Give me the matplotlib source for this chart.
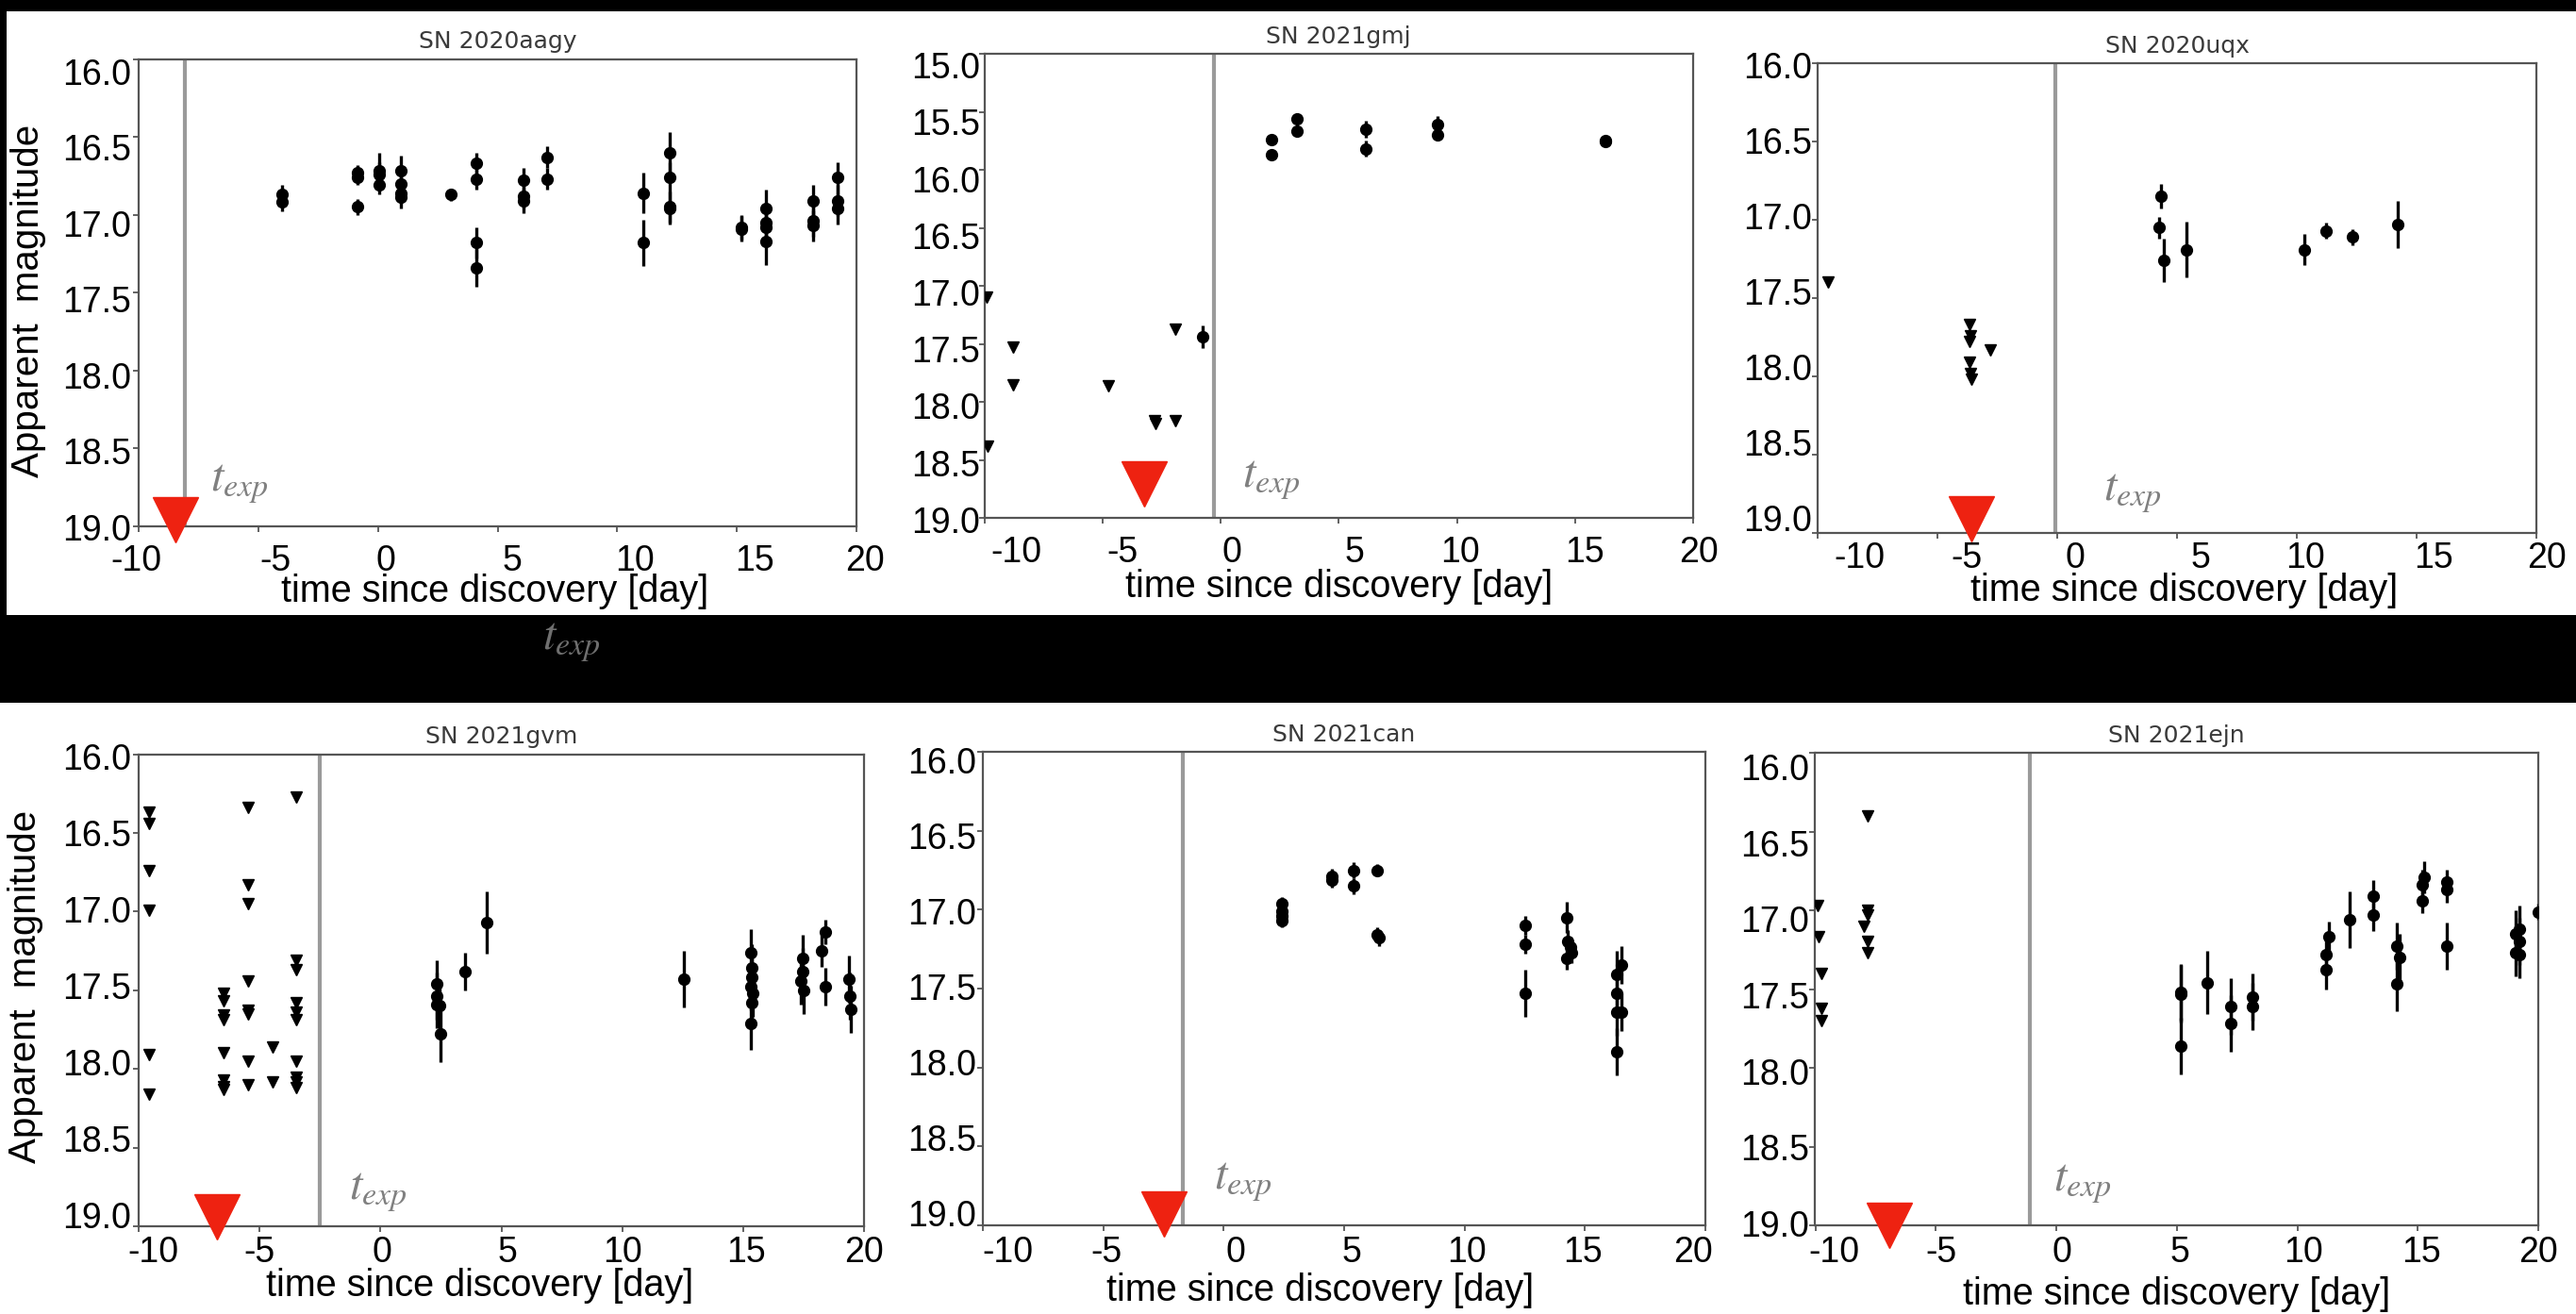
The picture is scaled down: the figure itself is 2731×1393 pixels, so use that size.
import matplotlib
matplotlib.use("Agg")
import matplotlib.pyplot as plt
from matplotlib.patches import Rectangle
from matplotlib.transforms import ScaledTranslation

plt.rcParams['mathtext.fontset'] = 'stix'

W, H, DPI = 2731, 1393, 100

# ---------------- data ----------------
names = ["SN 2020aagy", "SN 2021gmj", "SN 2020uqx", "SN 2021gvm", "SN 2021can", "SN 2021ejn"]
x_ticks = [-10, -5, 0, 5, 10, 15, 20]
x_ticklabels = ["-10", "-5", "0", "5", "10", "15", "20"]
y_ticks_a = [16.0, 16.5, 17.0, 17.5, 18.0, 18.5, 19.0]
y_ticklabels_a = ["16.0", "16.5", "17.0", "17.5", "18.0", "18.5", "19.0"]
y_ticks_b = [15.0, 15.5, 16.0, 16.5, 17.0, 17.5, 18.0, 18.5, 19.0]
y_ticklabels_b = ["15.0", "15.5", "16.0", "16.5", "17.0", "17.5", "18.0", "18.5", "19.0"]

# SN 2020aagy
aagy_t = [-4.0, -4.0, -0.87, -0.87, -0.87, 0.05, 0.05, 0.05, 0.96, 0.96, 0.96, 0.96, 3.03,
          4.1, 4.1, 4.1, 4.1, 6.08, 6.08, 6.08, 7.06, 7.06, 11.1, 11.1, 12.2, 12.2, 12.2, 12.2,
          15.2, 15.2, 16.2, 16.2, 16.2, 16.2, 18.2, 18.2, 18.2, 19.2, 19.2, 19.2]
aagy_m = [16.87, 16.92, 16.73, 16.76, 16.95, 16.72, 16.74, 16.81, 16.72, 16.80, 16.86, 16.89, 16.87,
          16.67, 16.77, 17.18, 17.34, 16.78, 16.88, 16.91, 16.63, 16.77, 16.86, 17.18, 16.60, 16.76, 16.95, 16.96,
          17.08, 17.09, 16.96, 17.05, 17.08, 17.17, 16.91, 17.04, 17.07, 16.76, 16.91, 16.96]
aagy_e = [0.06, 0.06, 0.05, 0.05, 0.05, 0.12, 0.08, 0.06, 0.1, 0.07, 0.07, 0.07, 0.04,
          0.07, 0.07, 0.1, 0.12, 0.08, 0.08, 0.08, 0.07, 0.07, 0.13, 0.15, 0.13, 0.1, 0.1, 0.1,
          0.08, 0.08, 0.12, 0.1, 0.1, 0.15, 0.1, 0.1, 0.1, 0.1, 0.1, 0.1]
aagy_ul_t = []
aagy_ul_m = []

# SN 2021gmj
gmj_t = [-0.74, 2.15, 2.15, 3.24, 3.24, 6.13, 6.13, 9.18, 9.18, 16.3, 16.3]
gmj_m = [17.44, 15.74, 15.87, 15.56, 15.67, 15.65, 15.82, 15.61, 15.70, 15.75, 15.76]
gmj_e = [0.1, 0.02, 0.02, 0.02, 0.02, 0.07, 0.07, 0.07, 0.05, 0.02, 0.02]
gmj_ul_t = [-9.9, -9.85, -8.8, -8.8, -4.74, -2.8, -2.74, -1.9, -1.9]
gmj_ul_m = [17.10, 18.38, 17.53, 17.85, 17.86, 18.16, 18.19, 17.37, 18.16]

# SN 2020uqx
uqx_t = [4.24, 4.33, 4.45, 5.37, 10.3, 11.2, 12.3, 14.2]
uqx_m = [17.05, 16.85, 17.26, 17.19, 17.19, 17.07, 17.11, 17.03]
uqx_e = [0.07, 0.08, 0.14, 0.18, 0.1, 0.05, 0.05, 0.15]
uqx_ul_t = [-9.59, -3.66, -3.62, -3.66, -3.66, -3.62, -3.6, -2.81]
uqx_ul_m = [17.40, 17.67, 17.74, 17.78, 17.91, 17.98, 18.02, 17.83]

# SN 2021gvm
gvm_t = [2.33, 2.33, 2.33, 2.45, 2.5, 3.5, 4.38, 12.53,
         15.3, 15.35, 15.35, 15.3, 15.4, 15.35, 15.3,
         17.45, 17.45, 17.4, 17.5, 18.24, 18.4, 18.4, 19.37, 19.4, 19.45]
gvm_m = [17.46, 17.54, 17.59, 17.60, 17.78, 17.38, 17.07, 17.43,
         17.26, 17.36, 17.42, 17.48, 17.52, 17.58, 17.71,
         17.30, 17.38, 17.44, 17.50, 17.25, 17.13, 17.48, 17.43, 17.54, 17.62]
gvm_e = [0.15, 0.15, 0.15, 0.15, 0.18, 0.12, 0.2, 0.18,
         0.15, 0.15, 0.15, 0.15, 0.15, 0.15, 0.17,
         0.15, 0.15, 0.15, 0.15, 0.1, 0.08, 0.12, 0.15, 0.15, 0.15]
gvm_ul_t = [-9.57, -9.57, -9.57, -9.57, -9.57, -9.57,
            -6.48, -6.48, -6.48, -6.48, -6.48, -6.48, -6.48, -6.48,
            -5.46, -5.46, -5.46, -5.46, -5.46, -5.46, -5.46, -5.46,
            -4.45, -4.45,
            -3.48, -3.48, -3.48, -3.48, -3.48, -3.48, -3.48, -3.48, -3.48, -3.48]
gvm_ul_m = [16.37, 16.44, 16.74, 16.99, 17.91, 18.16,
            17.52, 17.57, 17.66, 17.69, 17.90, 18.07, 18.11, 18.13,
            16.34, 16.83, 16.95, 17.44, 17.63, 17.65, 17.95, 18.10,
            17.86, 18.08,
            16.27, 17.31, 17.37, 17.58, 17.64, 17.69, 17.95, 18.05, 18.08, 18.12]

# SN 2021can
can_t = [2.43, 2.43, 2.43, 2.43, 4.5, 4.5, 5.41, 5.41, 6.37, 6.37, 6.45,
         12.51, 12.51, 12.51, 14.25, 14.3, 14.4, 14.45, 14.25,
         16.33, 16.33, 16.33, 16.33, 16.5, 16.5]
can_m = [16.96, 17.01, 17.04, 17.07, 16.79, 16.81, 16.75, 16.85, 16.75, 17.16, 17.18,
         17.10, 17.22, 17.53, 17.05, 17.20, 17.24, 17.27, 17.31,
         17.41, 17.53, 17.65, 17.90, 17.35, 17.65]
can_e = [0.04, 0.04, 0.04, 0.04, 0.05, 0.05, 0.05, 0.05, 0.04, 0.05, 0.05,
         0.06, 0.06, 0.15, 0.1, 0.07, 0.07, 0.07, 0.07,
         0.15, 0.15, 0.15, 0.15, 0.12, 0.12]

# SN 2021ejn
ejn_t = [5.17, 5.17, 5.17, 6.28, 7.24, 7.24, 8.16, 8.16, 11.2, 11.2, 11.3, 12.18, 13.17, 13.17,
         14.14, 14.14, 14.25, 15.17, 15.17, 15.25, 16.2, 16.2, 16.2,
         19.08, 19.08, 19.2, 19.2, 19.2, 20.0]
ejn_m = [17.52, 17.53, 17.86, 17.46, 17.61, 17.72, 17.55, 17.61, 17.28, 17.38, 17.17, 17.06, 16.91, 17.03,
         17.23, 17.47, 17.30, 16.84, 16.94, 16.79, 16.82, 16.87, 17.23,
         17.15, 17.27, 17.12, 17.20, 17.28, 17.01]
ejn_e = [0.18, 0.18, 0.18, 0.2, 0.18, 0.18, 0.15, 0.15, 0.12, 0.12, 0.1, 0.18, 0.1, 0.1,
         0.15, 0.17, 0.15, 0.1, 0.08, 0.1, 0.08, 0.08, 0.15,
         0.15, 0.15, 0.15, 0.15, 0.15, 0.05]
ejn_ul_t = [-9.9, -9.85, -9.75, -9.75, -9.75, -7.82, -7.98, -7.82, -7.82, -7.82, -7.82]
ejn_ul_m = [16.97, 17.17, 17.40, 17.62, 17.70, 16.40, 17.10, 17.00, 17.03, 17.20, 17.27]

# explosion epochs (grey line) and red triangle markers
texp_line = [-8.07, -0.28, -0.09, -2.50, -1.71, -1.10]
red_t = [-8.46, -3.24, -3.60, -6.75, -2.50, -6.94]
red_m = [18.96, 18.71, 18.91, 18.94, 18.93, 19.00]

det_t = [aagy_t, gmj_t, uqx_t, gvm_t, can_t, ejn_t]
det_m = [aagy_m, gmj_m, uqx_m, gvm_m, can_m, ejn_m]
det_e = [aagy_e, gmj_e, uqx_e, gvm_e, can_e, ejn_e]
ul_t = [aagy_ul_t, gmj_ul_t, uqx_ul_t, gvm_ul_t, [], ejn_ul_t]
ul_m = [aagy_ul_m, gmj_ul_m, uqx_ul_m, gvm_ul_m, [], ejn_ul_m]

# ---------------- layout (pixels) ----------------
axes_px = [(147, 62.5, 908, 558), (1043.5, 57, 1795, 549), (1927.5, 67, 2689, 565),
           (147, 799.5, 916, 1300), (1042, 797, 1808, 1299), (1924.5, 798, 2691, 1299)]
ylims = [(19, 16), (19, 15), (19, 16), (19, 16), (19, 16), (19, 16)]
texp_text_pos = [(-7.0, 18.72), (0.92, 18.67), (1.91, 18.74), (-1.29, 18.78), (-0.39, 18.72), (-0.11, 18.73)]
xlabel_px = [(525, 627), (1420, 622), (2316, 626), (509, 1363), (1400, 1368), (2308, 1372)]
ylabel_px = {0: (30, 319), 3: (27, 1046)}
xlab_dx = [[-3, 18, 8, 15, 19, 19, 9], [34, 21, 12, 17, 3, 10, 6], [44, 31, 19, 25, 9, 18, 11],
           [15, 0, 2, 6, 0, 3, 0], [26, 3, 13, 8, 2, -2, -13], [20, 6, 6, 3, 7, 4, 0]]
xlab_dy = [10, 10, 0, 1, 2, 2]
ylab_dx = [1, 5, 3, 1, 2, 3]
ylab_dy = [(13, 1), (12, 2), (2, -16), (2, -12), (9, -13), (15, -2)]

fig = plt.figure(figsize=(W / DPI, H / DPI), dpi=DPI, facecolor='black')

def add_white(x0, y0, x1, y1):
    fig.add_artist(Rectangle((x0 / W, 1 - y1 / H), (x1 - x0) / W, (y1 - y0) / H,
                             transform=fig.transFigure, facecolor='white',
                             edgecolor='none', zorder=-2))

add_white(7, 12, W, 652)
add_white(0, 745, W, H)

SP = '#555555'
TICKFONT = 'Liberation Sans'
TFS = 27

for i in range(6):
    l, t, r, b = axes_px[i]
    ax = fig.add_axes([l / W, 1 - b / H, (r - l) / W, (b - t) / H])
    ax.set_facecolor('white')
    ax.set_xlim(-10, 20)
    ax.set_ylim(*ylims[i])
    for s in ax.spines.values():
        s.set_color(SP)
        s.set_linewidth(1.6)

    ax.axvline(texp_line[i], color='#9a9a9a', lw=3.0, zorder=1)

    if len(ul_t[i]):
        ax.plot(ul_t[i], ul_m[i], 'v', color='black', ms=9, ls='none', zorder=3)
    ax.errorbar(det_t[i], det_m[i], yerr=det_e[i], fmt='o', color='black', ms=8.5,
                elinewidth=2.4, capsize=0, zorder=3)

    ax.plot([red_t[i]], [red_m[i]], marker='v', ms=34, color='#ee2211', ls='none',
            clip_on=False, zorder=6)

    tx, ty = texp_text_pos[i]
    ax.text(tx, ty, r'$t_{exp}$', fontsize=35, color='#808080', ha='left', va='center', zorder=4)

    ax.set_title(names[i], fontsize=18, color='#3a3a3a', pad=8, family='DejaVu Sans')

    ax.set_xticks(x_ticks)
    ax.set_xticklabels(x_ticklabels, family=TICKFONT, fontsize=TFS)
    if i == 1:
        ax.set_yticks(y_ticks_b)
        ax.set_yticklabels(y_ticklabels_b, family=TICKFONT, fontsize=TFS)
    else:
        ax.set_yticks(y_ticks_a)
        ax.set_yticklabels(y_ticklabels_a, family=TICKFONT, fontsize=TFS)
    ax.tick_params(direction='out', length=4.5, width=1.3, color=SP, pad=2, labelcolor='black')

    for lab, dx in zip(ax.get_xticklabels(), xlab_dx[i]):
        lab.set_transform(lab.get_transform() +
                          ScaledTranslation(dx / DPI, -xlab_dy[i] / DPI, fig.dpi_scale_trans))
    ylabs = ax.get_yticklabels()
    n = len(ylabs)
    d0, d1 = ylab_dy[i]
    for k, lab in enumerate(ylabs):
        dy = d0 + (d1 - d0) * k / (n - 1)
        lab.set_transform(lab.get_transform() +
                          ScaledTranslation(ylab_dx[i] / DPI, -dy / DPI, fig.dpi_scale_trans))

    cx, cy = xlabel_px[i]
    fig.text(cx / W, 1 - cy / H, 'time since discovery [day]', family=TICKFONT, fontsize=28.5,
             ha='center', va='center', color='black')
    if i in ylabel_px:
        yx, yy = ylabel_px[i]
        fig.text(yx / W, 1 - yy / H, 'Apparent  magnitude', family=TICKFONT, fontsize=29,
                 rotation=90, ha='center', va='center', color='black')

# stray label in the black gap
fig.text(606 / W, 1 - 680 / H, r'$t_{exp}$', fontsize=35, color='#6f6f6f', ha='center', va='center')

fig.savefig('out.png', dpi=DPI, facecolor=fig.get_facecolor())
